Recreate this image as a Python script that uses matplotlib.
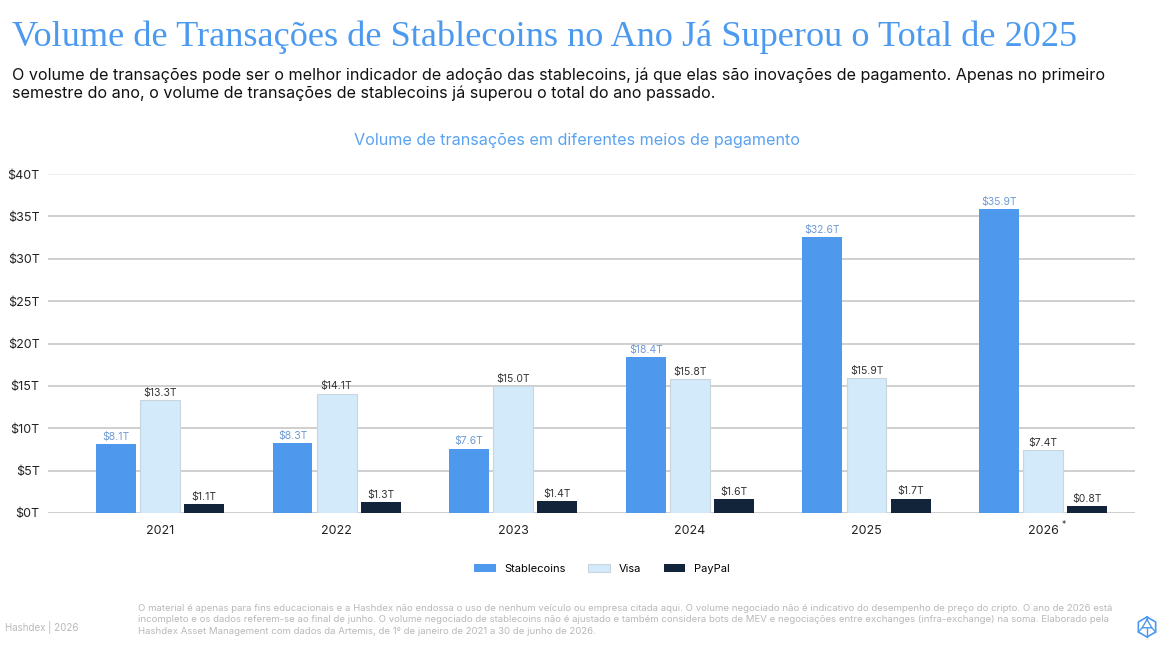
import numpy as np
import matplotlib.pyplot as plt
from matplotlib.lines import Line2D

anos = ["2021", "2022", "2023", "2024", "2025", "2026"]
stablecoins = [8.1, 8.3, 7.6, 18.4, 32.6, 35.9]
visa = [13.3, 14.1, 15.0, 15.8, 15.9, 7.4]
paypal = [1.1, 1.3, 1.4, 1.6, 1.7, 0.8]
yticks = [0, 5, 10, 15, 20, 25, 30, 35, 40]

azul = "#4e98ee"
azul_claro = "#d3eafb"
escuro = "#12243a"
cinza_txt = "#b8b8b8"

plt.rcParams["font.family"] = ["Inter", "DejaVu Sans"]

fig = plt.figure(figsize=(11.62, 6.56), dpi=100)
W, H = 1162, 656

ax = fig.add_axes([48 / W, 1 - 513 / H, (1135 - 48) / W, (513 - 174) / H])

x = np.arange(len(anos))
w = 0.226
d = 0.25
b1 = ax.bar(x - d, stablecoins, w, color=azul, zorder=3)
b2 = ax.bar(x, visa, w, color=azul_claro, edgecolor="#c9d6e0", linewidth=0.8, zorder=3)
b3 = ax.bar(x + d, paypal, w, color=escuro, zorder=3)

for barras, vals, cor in [(b1, stablecoins, "#6e9ad6"), (b2, visa, "#333333"), (b3, paypal, "#333333")]:
    for r, v in zip(barras, vals):
        ax.text(r.get_x() + r.get_width() / 2, v + 0.25, f"${v:.1f}T",
                ha="center", va="bottom", fontsize=7.5, color=cor)

ax.set_xlim(-0.634, 5.52)
ax.set_ylim(0, 40)
ax.set_yticks(yticks)
ax.set_yticklabels([f"${t}T" for t in yticks])
ax.set_xticks(x)
ax.set_xticklabels(anos)
for s in ax.spines.values():
    s.set_visible(False)
ax.tick_params(axis="both", length=0, labelsize=9, colors="#222222")
ax.tick_params(axis="y", pad=6)
ax.tick_params(axis="x", pad=9)
for t in yticks:
    ax.axhline(t, color="#eeeeee" if t == 40 else "#cfcfcf", lw=1.4, zorder=1)

# asterisco do 2026
ax.annotate("*", xy=(5, 0), xycoords="data", xytext=(13.5, -8), textcoords="offset points",
            fontsize=6, color="#333333", ha="left", va="center")

# titulos
fig.text(12 / W, 1 - 37 / H, "Volume de Transações de Stablecoins no Ano Já Superou o Total de 2025",
         fontsize=26.1, color="#4c9af0", family="Liberation Serif", va="center")
fig.text(12 / W, 1 - 84 / H,
         "O volume de transações pode ser o melhor indicador de adoção das stablecoins, já que elas são inovações de pagamento. Apenas no primeiro\n"
         "semestre do ano, o volume de transações de stablecoins já superou o total do ano passado.",
         fontsize=11.6, color="#111111", va="center", linespacing=1.22)
fig.text(577 / W, 1 - 141 / H, "Volume de transações em diferentes meios de pagamento",
         fontsize=11.6, color="#5aa2f0", ha="center", va="center")

# legenda
fig.legend([b1, b2, b3], ["Stablecoins", "Visa", "PayPal"], loc="center",
           bbox_to_anchor=(602 / W, 1 - 569 / H), ncol=3, frameon=False,
           fontsize=8, handlelength=1.95, handleheight=0.75, handletextpad=0.8,
           columnspacing=2.0)

# rodape
fig.text(5 / W, 1 - 628 / H, "Hashdex | 2026", fontsize=7, color=cinza_txt, va="center")
fig.text(138 / W, 1 - 620 / H,
         "O material é apenas para fins educacionais e a Hashdex não endossa o uso de nenhum veículo ou empresa citada aqui. O volume negociado não é indicativo do desempenho de preço do cripto. O ano de 2026 está\n"
         "incompleto e os dados referem-se ao final de junho. O volume negociado de stablecoins não é ajustado e também considera bots de MEV e negociações entre exchanges (infra-exchange) na soma. Elaborado pela\n"
         "Hashdex Asset Management com dados da Artemis, de 1º de janeiro de 2021 a 30 de junho de 2026.",
         fontsize=6.9, color=cinza_txt, va="center", linespacing=1.4)

# logo hexagonal simples
cx, cy, r = 1147 / W, 1 - 627 / H, 10
ang = np.deg2rad(np.arange(90, 451, 60))
px = cx + r * np.cos(ang) / W
py = cy + r * np.sin(ang) / H
fig.add_artist(Line2D(px, py, color="#4c9af0", lw=1.2))
ix = cx + 0.55 * r * np.cos(np.deg2rad([90, 210, 330, 90])) / W
iy = cy + 0.55 * r * np.sin(np.deg2rad([90, 210, 330, 90])) / H + 0.2 * r / H
fig.add_artist(Line2D(ix, iy, color="#4c9af0", lw=1.0))
for k, a in enumerate([90, 210, 330]):
    fig.add_artist(Line2D([ix[k], cx + r * np.cos(np.deg2rad(a)) / W],
                          [iy[k], cy + r * np.sin(np.deg2rad(a)) / H], color="#4c9af0", lw=1.0))
fig.add_artist(Line2D([cx, cx], [iy[1], cy - r / H], color="#4c9af0", lw=1.0))

fig.savefig("out.png", dpi=100)
